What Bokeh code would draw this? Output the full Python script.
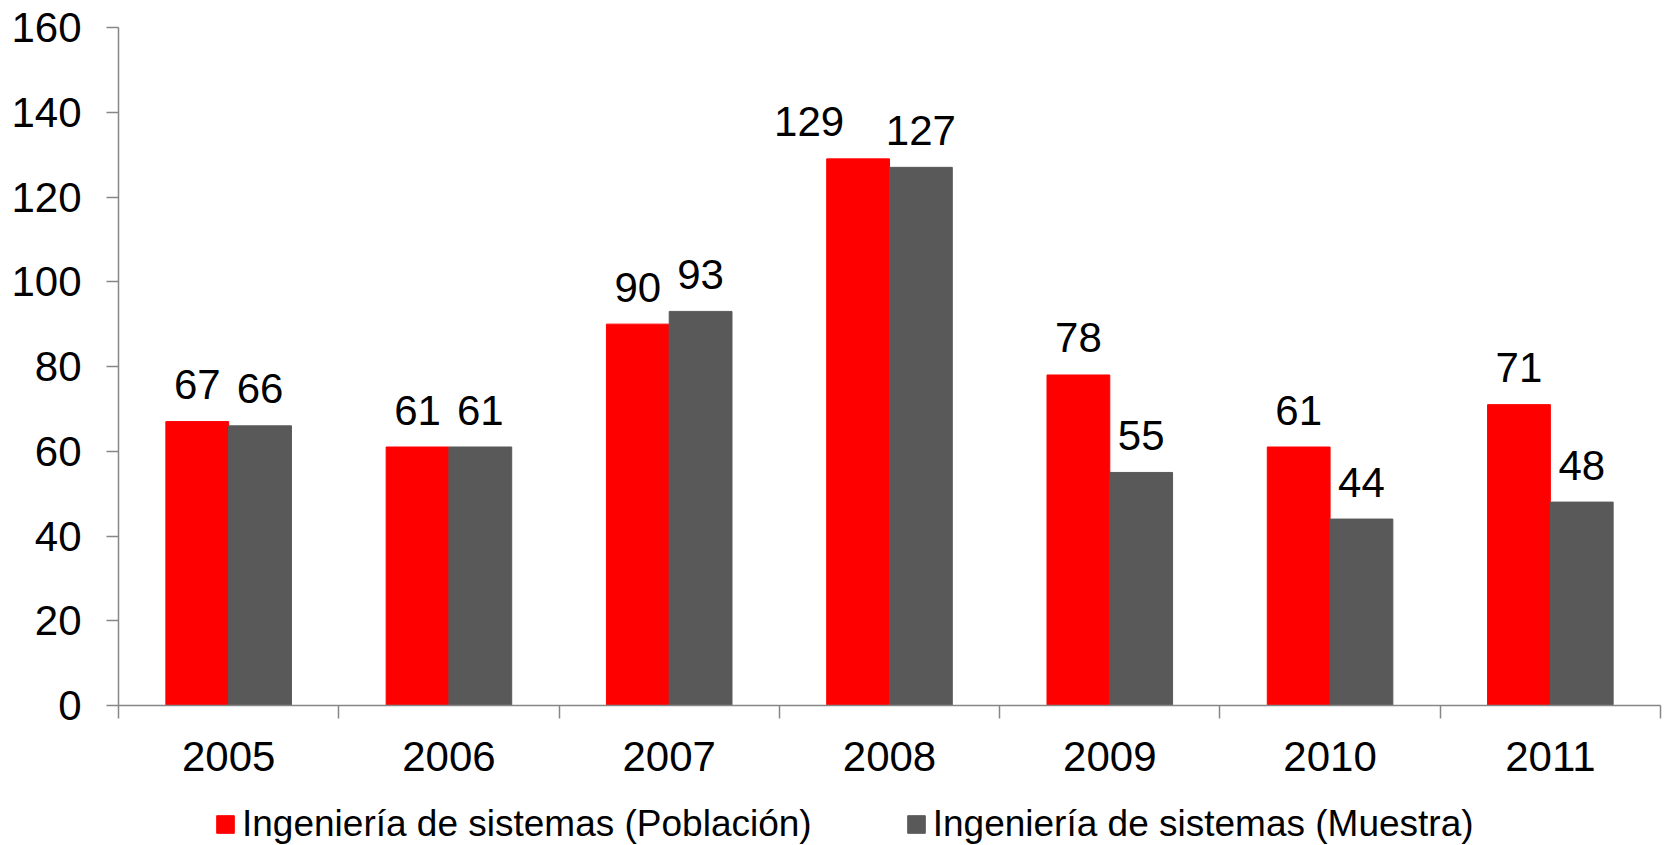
from bokeh.plotting import figure
from bokeh.layouts import column
from bokeh.models import Range1d, FixedTicker, ColumnDataSource, Legend, LegendItem
from bokeh.transform import dodge
from bokeh.core.properties import value
from bokeh.embed import file_html
from bokeh.resources import INLINE

years = ["2005", "2006", "2007", "2008", "2009", "2010", "2011"]
poblacion = [67, 61, 90, 129, 78, 61, 71]
muestra = [66, 61, 93, 127, 55, 44, 48]
y_ticks = [0, 20, 40, 60, 80, 100, 120, 140, 160]
series_names = ["Ingeniería de sistemas (Población)", "Ingeniería de sistemas (Muestra)"]

RED = "#FF0000"
GRAY = "#595959"
AXIS = "#868686"
FONT = "Liberation Sans"

# label nudges (pixels) to avoid overlaps, as in the original
pob_dx = [-49 if y == "2008" else 0 for y in years]

pos = [i + 0.5 for i in range(len(years))]
src = ColumnDataSource(dict(
    pos=pos, pob=poblacion, mue=muestra,
    pob_t=[str(v) for v in poblacion], mue_t=[str(v) for v in muestra],
    pob_dx=pob_dx, mue_dx=[0] * len(years),
))

W = 1667
H_MAIN = 790
H_LEG = 55

p = figure(width=W, height=H_MAIN,
           x_range=Range1d(0, len(years)), y_range=Range1d(y_ticks[0], y_ticks[-1]),
           output_backend="svg", toolbar_location=None,
           min_border_left=118, min_border_right=7, min_border_top=27,
           min_border_bottom=H_MAIN - 705)
p.outline_line_color = None
p.grid.visible = False
p.background_fill_color = "white"

off = 0.1425
bw = 0.285
r1 = p.vbar(x=dodge("pos", -off), top="pob", width=bw, source=src,
            fill_color=RED, line_color=RED)
r2 = p.vbar(x=dodge("pos", off), top="mue", width=bw, source=src,
            fill_color=GRAY, line_color=GRAY)

for col, txt, o, dx in (("pob", "pob_t", -off, "pob_dx"), ("mue", "mue_t", off, "mue_dx")):
    p.text(x=dodge("pos", o), y=col, text=txt, source=src, x_offset=dx,
           text_align="center", text_baseline="alphabetic", y_offset=-37,
           text_font=value(FONT), text_font_size=value("42px"), text_color="black")

xa = p.xaxis[0]
xa.ticker = FixedTicker(ticks=pos, minor_ticks=list(range(0, len(years) + 1)))
xa.major_label_overrides = {pv: y for pv, y in zip(pos, years)}
xa.major_tick_line_color = None
xa.major_tick_out = 13
xa.major_tick_in = 0
xa.minor_tick_out = 13
xa.minor_tick_in = 0
xa.minor_tick_line_color = AXIS
xa.minor_tick_line_width = 1.5
xa.axis_line_color = AXIS
xa.axis_line_width = 1.5
xa.major_label_standoff = 23
xa.major_label_text_font = FONT
xa.major_label_text_font_size = "42px"
xa.major_label_text_color = "black"

ya = p.yaxis[0]
ya.ticker = FixedTicker(ticks=y_ticks)
ya.major_tick_out = 12
ya.major_tick_in = 0
ya.minor_tick_line_color = None
ya.major_tick_line_color = AXIS
ya.major_tick_line_width = 1.5
ya.axis_line_color = AXIS
ya.axis_line_width = 1.5
ya.major_label_standoff = 25
ya.major_label_text_font = FONT
ya.major_label_text_font_size = "42px"
ya.major_label_text_color = "black"

# legend strip below the chart (hidden copies of the series provide the swatches)
pl = figure(width=W, height=H_LEG, x_range=Range1d(0, 1), y_range=Range1d(0, 1),
            output_backend="svg", toolbar_location=None,
            x_axis_location=None, y_axis_location=None,
            min_border=0, min_border_left=0, min_border_right=0,
            min_border_top=0, min_border_bottom=0)
pl.outline_line_color = None
pl.grid.visible = False
d1 = pl.vbar(x="pos", top="pob", width=bw, source=src, fill_color=RED, line_color=RED, visible=False)
d2 = pl.vbar(x="pos", top="mue", width=bw, source=src, fill_color=GRAY, line_color=GRAY, visible=False)

legend = Legend(items=[LegendItem(label=series_names[0], renderers=[d1]),
                       LegendItem(label=series_names[1], renderers=[d2])],
                location=(96, 0), orientation="horizontal",
                spacing=93, label_standoff=6, glyph_width=22, glyph_height=22,
                padding=0, margin=0, inactive_fill_alpha=0,
                label_text_font=FONT, label_text_font_size="37px", label_text_color="black",
                background_fill_alpha=0, border_line_color=None)
pl.add_layout(legend)

layout = column(p, pl, spacing=0)
open("out.html", "w").write(file_html(layout, INLINE))
